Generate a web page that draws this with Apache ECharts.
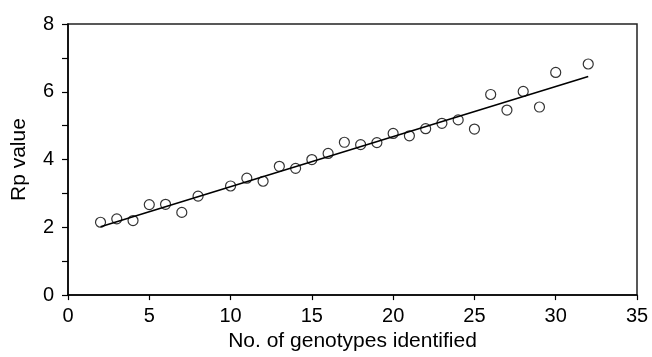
<!DOCTYPE html>
<html>
<head>
<meta charset="utf-8">
<script src="https://cdn.jsdelivr.net/npm/echarts@6/dist/echarts.min.js"></script>
<style>
  html, body { margin: 0; padding: 0; background: #fff; }
  #chart { width: 652px; height: 357px; }
</style>
</head>
<body>
<div id="chart"></div>
<script>
// observed points
var genotypes = [2, 3, 4, 5, 6, 7, 8, 10, 11, 12, 13, 14, 15, 16, 17, 18, 19, 20, 21, 22, 23, 24, 25, 26, 27, 28, 29, 30, 32];
var rpValues = [2.15, 2.25, 2.2, 2.67, 2.68, 2.44, 2.92, 3.22, 3.45, 3.36, 3.8, 3.74, 4.0, 4.18, 4.51, 4.44, 4.5, 4.77, 4.7, 4.91, 5.07, 5.17, 4.9, 5.92, 5.46, 6.01, 5.55, 6.57, 6.82];

// fitted line ends
var fitX = [2, 32];
var fitY = [2.02, 6.45];

var xTicks = [0, 5, 10, 15, 20, 25, 30, 35];
var yTicks = [0, 2, 4, 6, 8];

var chart = echarts.init(document.getElementById('chart'), null, { renderer: 'canvas' });

var font = '"Liberation Sans", Arial, sans-serif';

var option = {
  backgroundColor: '#fff',
  animation: false,
  grid: {
    left: 68,
    right: 15,
    top: 24,
    bottom: 61,
    show: true,
    borderColor: '#222',
    borderWidth: 1.5,
    backgroundColor: 'transparent'
  },
  xAxis: {
    type: 'value',
    min: xTicks[0],
    max: xTicks[xTicks.length - 1],
    interval: 5,
    name: 'No. of genotypes identified',
    nameLocation: 'middle',
    nameGap: 35,
    nameTextStyle: { color: '#000', fontSize: 21, fontFamily: font },
    axisLine: { show: true, lineStyle: { color: '#000', width: 1.5 } },
    axisTick: { show: true, inside: false, length: 5, lineStyle: { color: '#000', width: 1.2 } },
    axisLabel: { color: '#000', fontSize: 20, fontFamily: font, margin: 11 },
    splitLine: { show: false }
  },
  yAxis: {
    type: 'value',
    min: yTicks[0],
    max: yTicks[yTicks.length - 1],
    interval: 2,
    name: 'Rp value',
    nameLocation: 'middle',
    nameGap: 38,
    nameTextStyle: { color: '#000', fontSize: 21, fontFamily: font },
    axisLine: { show: true, lineStyle: { color: '#000', width: 1.5 } },
    axisTick: { show: true, inside: false, length: 6, lineStyle: { color: '#000', width: 1.2 } },
    minorTick: { show: true, splitNumber: 2, length: 6, lineStyle: { color: '#000', width: 1.2 } },
    axisLabel: { color: '#000', fontSize: 20, fontFamily: font, margin: 14 },
    splitLine: { show: false }
  },
  series: [
    {
      name: 'fit',
      type: 'line',
      data: fitX.map(function (x, i) { return [x, fitY[i]]; }),
      symbol: 'none',
      silent: true,
      lineStyle: { color: '#000', width: 1.6 },
      z: 2
    },
    {
      name: 'Rp',
      type: 'scatter',
      data: genotypes.map(function (x, i) { return [x, rpValues[i]]; }),
      symbol: 'circle',
      symbolSize: 10,
      itemStyle: { color: 'rgba(255,255,255,0)', borderColor: '#000', borderWidth: 1.2 },
      z: 3
    }
  ]
};

chart.setOption(option);
</script>
</body>
</html>
